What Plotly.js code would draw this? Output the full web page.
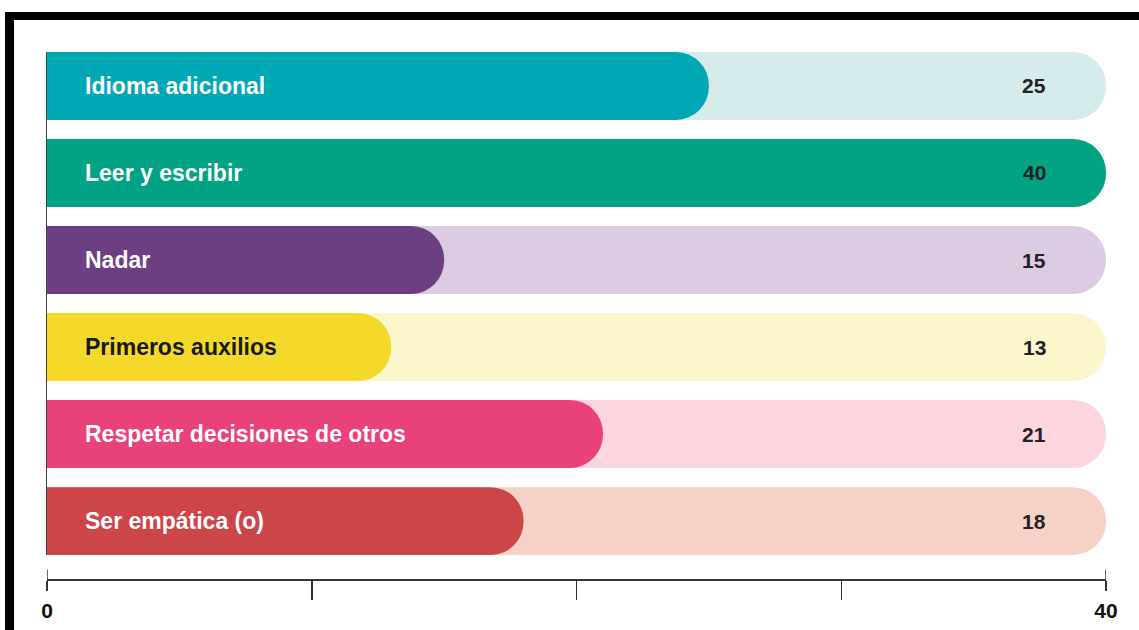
<!DOCTYPE html>
<html>
<head>
<meta charset="utf-8">
<script src="https://cdn.plot.ly/plotly-3.0.1.min.js"></script>
<style>
  html, body { margin: 0; padding: 0; background: #ffffff; }
  #wrap { position: relative; width: 1139px; height: 630px; overflow: hidden; }
  #chart { position: absolute; left: 0; top: 0; width: 1139px; height: 630px; }
  #frame { position: absolute; left: 5px; top: 12px; width: 1134px; height: 618px;
           border-top: 8px solid #000; border-left: 9px solid #000; box-sizing: border-box;
           pointer-events: none; }
</style>
</head>
<body>
<div id="wrap">
  <div id="chart"></div>
  <div id="frame"></div>
</div>
<script>
// ---- data ----
const categories = ["Idioma adicional", "Leer y escribir", "Nadar", "Primeros auxilios", "Respetar decisiones de otros", "Ser empática (o)"];
const values = [25, 40, 15, 13, 21, 18];
const maxValue = 40;
const barColors = ["#00A7B4", "#00A383", "#6C3E84", "#F5D92A", "#E8417B", "#CC4549"];
const trackColors = ["#D6EBEC", "#CCEBE2", "#DCCCE3", "#FCF6CD", "#FDD5DF", "#F6D1C7"];
const labelColors = ["#ffffff", "#ffffff", "#ffffff", "#1a1a1a", "#ffffff", "#ffffff"];
const tickVals = [0, 10, 20, 30, 40];
const tickLabels = ["0", "", "", "", "40"];

const FONT = "Liberation Sans, Arial, Helvetica, sans-serif";

const trackTrace = {
  type: "bar",
  orientation: "h",
  y: categories,
  x: categories.map(() => maxValue),
  yaxis: "y",
  marker: { color: trackColors, cornerradius: "50%" },
  hoverinfo: "skip",
  showlegend: false
};
const valueTrace = {
  type: "bar",
  orientation: "h",
  y: categories,
  x: values,
  yaxis: "y2",
  marker: { color: barColors, cornerradius: "50%" },
  hoverinfo: "skip",
  showlegend: false
};

const annotations = [];
categories.forEach((c, i) => {
  annotations.push({
    x: 0, y: c, xref: "x", yref: "y",
    text: "<b>" + c + "</b>",
    showarrow: false, xanchor: "left", yanchor: "middle",
    xshift: 36,
    font: { family: FONT, size: 23, color: labelColors[i] }
  });
  annotations.push({
    x: maxValue, y: c, xref: "x", yref: "y",
    text: "<b>" + values[i] + "</b>",
    showarrow: false, xanchor: "right", yanchor: "middle",
    xshift: -58,
    font: { family: FONT, size: 21, color: "#222222" }
  });
});

// end ticks extend slightly above the axis line
const endTicks = [tickVals[0], tickVals[tickVals.length - 1]];
const shapes = endTicks.map(v => ({
  type: "line", xref: "x", yref: "paper",
  x0: v, x1: v, y0: 0, y1: 0.018,
  line: { color: "#333333", width: 1.5 }
}));

const yBase = {
  type: "category",
  categoryorder: "array", categoryarray: categories,
  range: [categories.length - 1 + 0.39, -0.39],
  domain: [0.0455, 1],
  showgrid: false, zeroline: false,
  showticklabels: false, ticks: "",
  fixedrange: true
};

const layout = {
  width: 1139, height: 630,
  margin: { l: 47, r: 33, t: 52, b: 51 },
  paper_bgcolor: "#ffffff",
  plot_bgcolor: "rgba(0,0,0,0)",
  barmode: "overlay",
  bargap: 0.22,
  showlegend: false,
  font: { family: FONT },
  xaxis: {
    range: [0, maxValue],
    anchor: "free", position: 0,
    showgrid: false, zeroline: false,
    showline: true, linecolor: "#333333", linewidth: 1.5,
    tickmode: "array", tickvals: [tickVals[0], tickVals[tickVals.length - 1]],
    ticktext: ["<b>" + tickLabels[0] + "</b>", "<b>" + tickLabels[tickLabels.length - 1] + "</b>"],
    ticks: "outside", ticklen: 10, tickwidth: 1.5, tickcolor: "#333333",
    ticklabelstandoff: 2,
    tickfont: { family: FONT, size: 21, color: "#111111" },
    minor: { tickmode: "array", tickvals: tickVals.slice(1, -1), ticks: "outside", ticklen: 19, tickwidth: 1.5, tickcolor: "#333333", showgrid: false },
    fixedrange: true
  },
  yaxis: Object.assign({}, yBase, { showline: true, linecolor: "#444444", linewidth: 1.5 }),
  yaxis2: Object.assign({}, yBase, { overlaying: "y", showline: false }),
  annotations: annotations,
  shapes: shapes
};

Plotly.newPlot("chart", [trackTrace, valueTrace], layout, { staticPlot: true, displayModeBar: false });
</script>
</body>
</html>
